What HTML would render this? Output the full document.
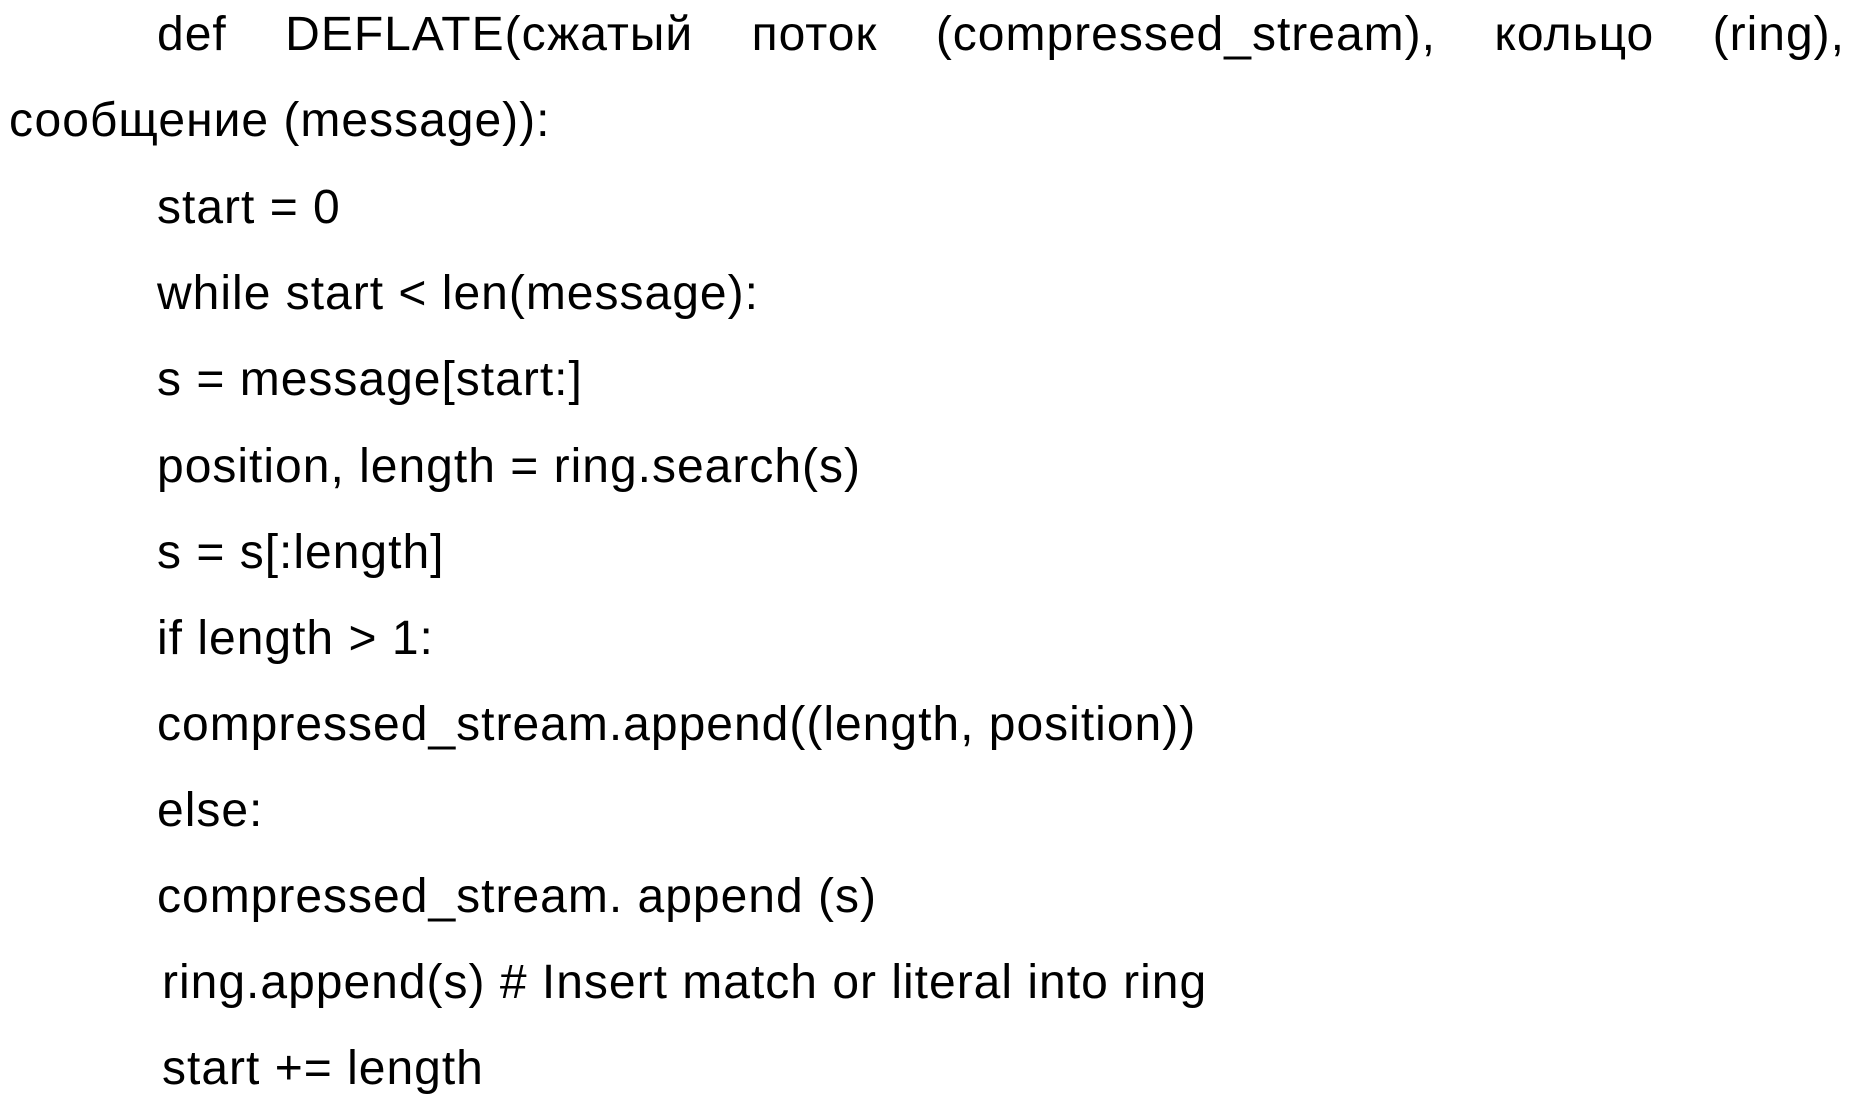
<!DOCTYPE html>
<html><head><meta charset="utf-8"><style>
html,body{margin:0;padding:0;background:#fff;}
body{width:1854px;height:1101px;position:relative;overflow:hidden;font-family:"Liberation Sans",Arial,sans-serif;font-size:48px;letter-spacing:1px;color:#000;}
.l{position:absolute;line-height:48px;white-space:pre;left:157px;}
.j{white-space:normal;text-align:justify;text-align-last:justify;width:1688px;}
</style></head><body>
<div class="l j" style="top:11px">def DEFLATE(сжатый поток (compressed_stream), кольцо (ring),</div>
<div class="l" style="top:97px;left:9px">сообщение (message)):</div>
<div class="l" style="top:184px">start = 0</div>
<div class="l" style="top:270px">while start &lt; len(message):</div>
<div class="l" style="top:356px">s = message[start:]</div>
<div class="l" style="top:443px">position, length = ring.search(s)</div>
<div class="l" style="top:529px">s = s[:length]</div>
<div class="l" style="top:615px">if length &gt; 1:</div>
<div class="l" style="top:701px">compressed_stream.append((length, position))</div>
<div class="l" style="top:787px">else:</div>
<div class="l" style="top:873px">compressed_stream. append (s)</div>
<div class="l" style="top:959px;left:162px">ring.append(s) # Insert match or literal into ring</div>
<div class="l" style="top:1045px;left:162px">start += length</div>
</body></html>
